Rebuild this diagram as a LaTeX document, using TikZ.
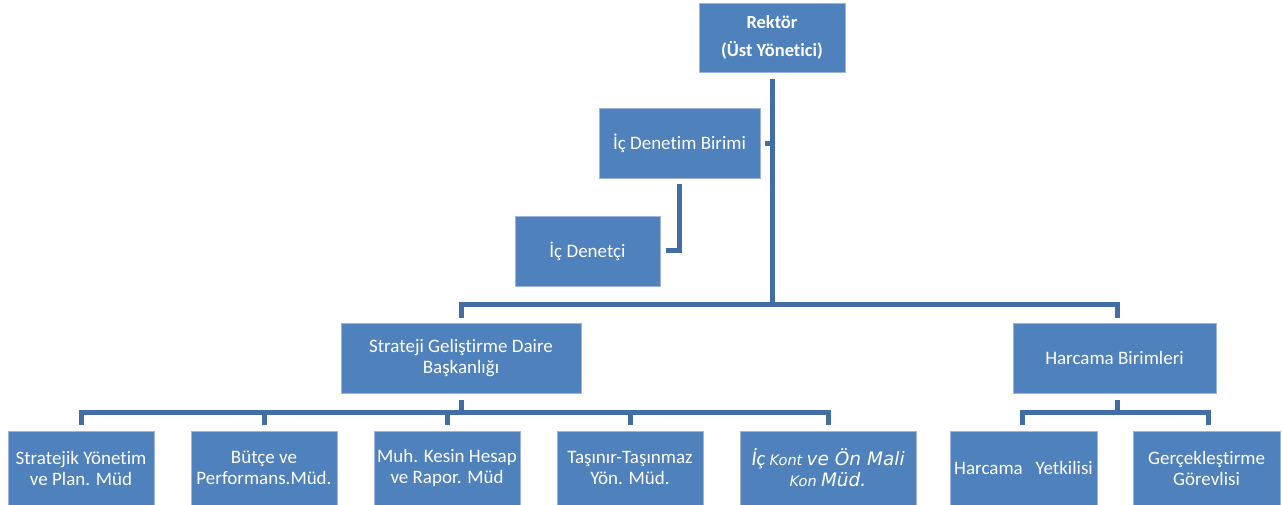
\documentclass[tikz,border=0pt]{standalone}
\usepackage{fontspec}
\setmainfont{Carlito}[Ligatures=NoCommon]
\newfontfamily\dvs{DejaVu Sans}
\usetikzlibrary{calc}
\definecolor{boxblue}{HTML}{4F81BD}
\definecolor{boxedge}{HTML}{9DB5D8}
\definecolor{linkblue}{HTML}{436EA3}
\tikzset{
  orgbox/.style={rectangle, fill=boxblue, draw=boxedge, line width=0.8pt, text=white,
    align=center, inner sep=2pt, font=\fontsize{19}{21}\selectfont},
  conn/.style={draw=linkblue, line width=5pt, line cap=butt, line join=miter}
}
\begin{document}
\begin{tikzpicture}[x=1pt,y=-1pt]
\useasboundingbox[fill=white] (0,0) rectangle (1282,504);
% nodes
\node[orgbox, minimum width=146pt, minimum height=69pt, font=\fontsize{18.5}{21}\selectfont\bfseries] (rek) at (772,37.5) {\raisebox{-1.5pt}{Rektör}\\[7pt] \raisebox{-1.5pt}{(Üst Yönetici)}};
\node[orgbox, minimum width=161pt, minimum height=70pt] (icb) at (679.5,143) {İç Denetim Birimi};
\node[orgbox, minimum width=145pt, minimum height=70pt] (icd) at (587.5,251) {İç Denetçi};
\node[orgbox, minimum width=240pt, minimum height=70pt] (sgdb) at (461,358) {\raisebox{-2pt}{Strateji Geliştirme Daire}\\\raisebox{-2pt}{Başkanlığı}};
\node[orgbox, minimum width=203pt, minimum height=70pt] (hb) at (1114.5,358) {Harcama Birimleri};
\node[orgbox, minimum width=146pt, minimum height=74pt] (b1) at (81,468) {Stratejik Yönetim\\ve Plan. Müd};
\node[orgbox, minimum width=146pt, minimum height=74pt] (b2) at (264,468) {Bütçe ve\\Performans.Müd.};
\node[orgbox, minimum width=146pt, minimum height=74pt] (b3) at (447,468) {Muh. Kesin Hesap\\ve Rapor. Müd};
\node[orgbox, minimum width=146pt, minimum height=74pt] (b4) at (630,468) {Taşınır-Taşınmaz\\Yön. Müd.};
\node[orgbox, minimum width=176pt, minimum height=74pt] (b5) at (828,468) {{\fontsize{21}{21}\selectfont\itshape İç} {\dvs\fontsize{14.5}{21}\selectfont\itshape Kont} {\dvs\fontsize{18.5}{21}\selectfont\itshape ve Ön Mali}\\{\dvs\fontsize{14.5}{21}\selectfont\itshape Kon} {\dvs\fontsize{18.5}{21}\selectfont\itshape Müd.}};
\node[orgbox, minimum width=147pt, minimum height=74pt] (b6) at (1023.5,468) {Harcama\ \ \ Yetkilisi};
\node[orgbox, minimum width=147pt, minimum height=74pt] (b7) at (1206.5,468) {Gerçekleştirme\\Görevlisi};
% connectors
\draw[conn] ($(rek.south)+(0,7)$) -- ($(rek.south |- sgdb.north)+(0,-18)$) -| ($(sgdb.north)+(0,-5)$);
\draw[conn] ($(rek.south |- sgdb.north)+(0,-18)$) -| ($(hb.north)+(2.5,-5)$);
\draw[conn] ($(icb.east)+(5,0)$) -- (icb.east -| rek.south);
\draw[conn] ($(icb.south)+(0,6)$) |- ($(icd.east)+(6,-1)$);
\draw[conn] ($(sgdb.south)+(0,7)$) -- ($(sgdb.south)+(0,20)$);
\draw[conn] ($(b1.north)+(0,-6)$) -- ($(b1.north)+(0,-18)$) -| ($(b5.north)+(0,-6)$);
\foreach \b in {b2,b3,b4} \draw[conn] ($(\b.north)+(0,-6)$) -- ($(\b.north)+(0,-18)$);
\draw[conn] ($(hb.south)+(2.5,7)$) -- ($(hb.south)+(2.5,20)$);
\draw[conn] ($(b6.north)+(-1.5,-6)$) -- ($(b6.north)+(-1.5,-18)$) -| ($(b7.north)+(1.5,-6)$);
\end{tikzpicture}
\end{document}
